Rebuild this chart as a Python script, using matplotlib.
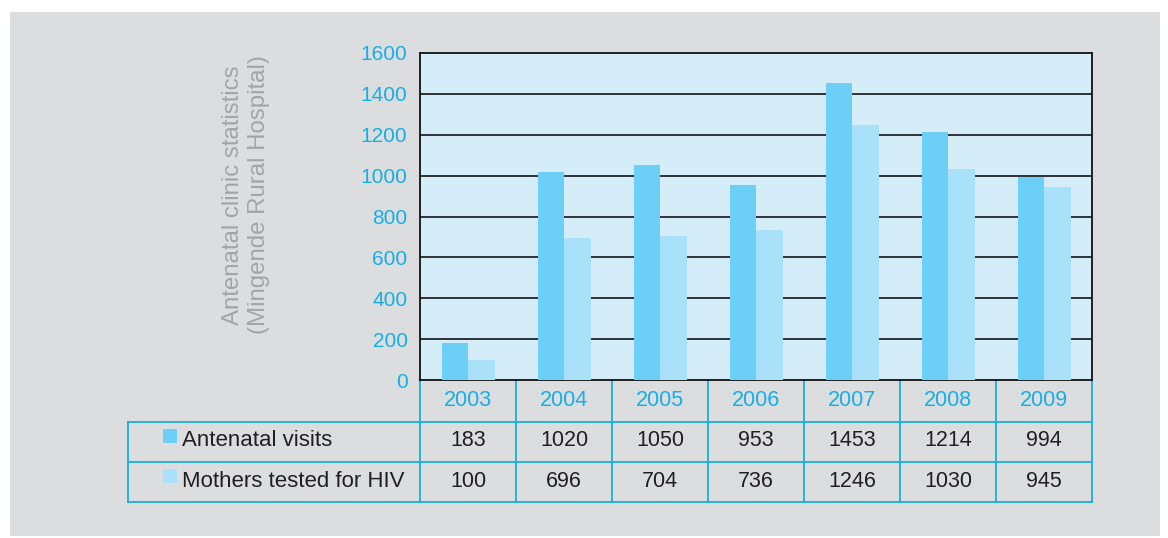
import numpy as np
import matplotlib.pyplot as plt
from matplotlib.patches import Rectangle
from matplotlib import transforms

years = ['2003', '2004', '2005', '2006', '2007', '2008', '2009']
antenatal = [183, 1020, 1050, 953, 1453, 1214, 994]
hiv_tested = [100, 696, 704, 736, 1246, 1030, 945]
series_names = ['Antenatal visits', 'Mothers tested for HIV']
yticks = [0, 200, 400, 600, 800, 1000, 1200, 1400, 1600]

c_ante = '#6cd0f6'
c_hiv = '#aae1fa'
c_cyan = '#17aee8'
c_panel = '#dcdddf'
c_plot = '#d5ecf9'

plt.rcParams['font.family'] = ['Liberation Sans', 'DejaVu Sans']

W, H = 1168, 538
fig = plt.figure(figsize=(W / 100, H / 100), dpi=100)
fig.patch.set_facecolor('white')
fig.add_artist(Rectangle((10 / W, 2 / H), 1150 / W, 524 / H, transform=fig.transFigure,
                         facecolor=c_panel, edgecolor='none', zorder=-10))

ax = fig.add_axes([420 / W, (H - 380) / H, 672 / W, 327 / H])
ax.set_facecolor(c_plot)
x = np.arange(len(years))
ax.bar(x - 0.135, antenatal, width=0.28, color=c_ante, zorder=3)
ax.bar(x + 0.145, hiv_tested, width=0.28, color=c_hiv, zorder=3)
ax.set_xlim(-0.5, len(years) - 0.5)
ax.set_ylim(0, 1600)
ax.set_yticks(yticks)
ax.set_yticklabels([str(v) for v in yticks], color=c_cyan, fontsize=15)
ax.tick_params(axis='y', length=0, pad=9)
ax.set_xticks([])
for v in yticks[1:-1]:
    ax.axhline(v, color='black', lw=1.1, zorder=2)
for s in ax.spines.values():
    s.set_color('black')
    s.set_linewidth(1.2)

fig.text(246 / W, (H - 195) / H, 'Antenatal clinic statistics\n(Mingende Rural Hospital)',
         rotation=90, ha='center', va='center', color='#a3a4a6', fontsize=17.3, linespacing=1.2)

# table under the axes
tr = transforms.blended_transform_factory(ax.transData, ax.transAxes)
y_rows = [0, -0.1284, -0.2508, -0.3731]
left = -0.5 - 292 / 96
right = len(years) - 0.5
kw = dict(transform=tr, clip_on=False, color=c_cyan, lw=1.3)
for yy in y_rows[1:]:
    ax.plot([left, right], [yy, yy], **kw)
for b in np.arange(-0.5, len(years), 1.0):
    ax.plot([b, b], [y_rows[0], y_rows[-1]], **kw)
ax.plot([left, left], [y_rows[1], y_rows[-1]], **kw)

for i, yr in enumerate(years):
    ax.text(i, -0.0642, yr, transform=tr, ha='center', va='center', color=c_cyan, fontsize=15.5)
    ax.text(i, -0.1865, str(antenatal[i]), transform=tr, ha='center', va='center', color='#231f20', fontsize=15.5)
    ax.text(i, -0.3089, str(hiv_tested[i]), transform=tr, ha='center', va='center', color='#231f20', fontsize=15.5)

sq_x = -0.5 - 257 / 96
for name, col, yc in zip(series_names, [c_ante, c_hiv], [-0.1865, -0.3089]):
    ax.add_patch(Rectangle((sq_x, yc - 0.005), 14 / 96, 14 / 327, transform=tr,
                           facecolor=col, edgecolor='none', clip_on=False))
    ax.text(-0.5 - 238 / 96, yc, name, transform=tr, ha='left', va='center',
            color='#231f20', fontsize=16)

fig.savefig('out.png', dpi=100, facecolor=fig.get_facecolor())
